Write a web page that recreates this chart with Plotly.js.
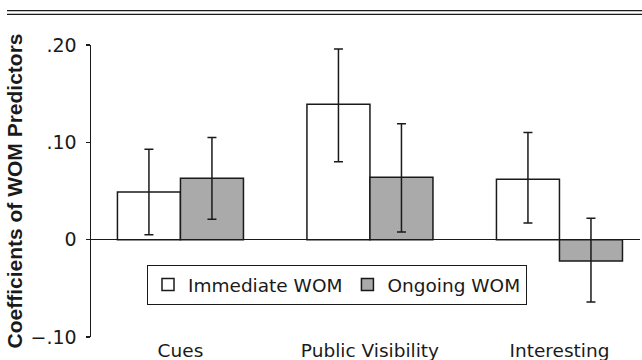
<!DOCTYPE html>
<html>
<head>
<meta charset="utf-8">
<script src="https://cdn.plot.ly/plotly-3.0.1.min.js"></script>
<style>html,body{margin:0;padding:0;background:#fff;}#chart{width:642px;height:360px;}</style>
</head>
<body>
<div id="chart"></div>
<script>
const categories = ["Cues", "Public Visibility", "Interesting"];
const immediateValues = [0.049, 0.139, 0.062];
const immediateUpper = [0.093, 0.196, 0.110];
const immediateLower = [0.005, 0.080, 0.017];
const ongoingValues = [0.063, 0.064, -0.022];
const ongoingUpper = [0.105, 0.119, 0.022];
const ongoingLower = [0.021, 0.008, -0.064];
const yTickVals = [-0.1, 0, 0.1, 0.2];
const yTickText = ["\u2212.10", "0", ".10", ".20"];

const ink = "#1a1a1a";
const wideFont = "DejaVu Sans, sans-serif";
const titleFont = "Liberation Sans, Arial, sans-serif";

function errs(vals, up, lo) {
  return {
    type: "data", symmetric: false,
    array: vals.map((v, i) => up[i] - v),
    arrayminus: vals.map((v, i) => v - lo[i]),
    color: ink, thickness: 1.5, width: 4.5
  };
}

const traces = [
  {
    type: "bar", name: "Immediate WOM", x: categories, y: immediateValues,
    marker: {color: "#ffffff", line: {color: ink, width: 1.5}},
    error_y: errs(immediateValues, immediateUpper, immediateLower)
  },
  {
    type: "bar", name: "Ongoing WOM", x: categories, y: ongoingValues,
    marker: {color: "#aaaaaa", line: {color: ink, width: 1.5}},
    error_y: errs(ongoingValues, ongoingUpper, ongoingLower)
  }
];

const layout = {
  width: 642, height: 360,
  margin: {l: 91, r: 2, t: 45, b: 23},
  paper_bgcolor: "#fff", plot_bgcolor: "#fff",
  font: {family: wideFont, size: 19, color: ink},
  barmode: "group", bargap: 0.335, bargroupgap: 0,
  showlegend: true,
  legend: {
    orientation: "h", x: 0.102, xanchor: "left", y: 0.2466, yanchor: "top",
    bgcolor: "#fff", bordercolor: ink, borderwidth: 1,
    font: {family: wideFont, size: 18.5, color: ink},
    traceorder: "normal"
  },
  xaxis: {
    range: [-0.472, 2.425], showline: false, showgrid: false, ticks: "",
    zeroline: false, fixedrange: true,
    tickfont: {family: wideFont, size: 18.5, color: ink}
  },
  yaxis: {
    range: [-0.1, 0.2], tickvals: yTickVals, ticktext: yTickText,
    showline: true, linecolor: ink, linewidth: 1.5,
    ticks: "outside", ticklen: 4, tickwidth: 1.5, tickcolor: ink,
    ticklabelstandoff: 5,
    showgrid: false, zeroline: true, zerolinecolor: ink, zerolinewidth: 1.5,
    tickfont: {family: wideFont, size: 19, color: ink},
    title: {text: "<b>Coefficients of WOM Predictors</b>", font: {family: titleFont, size: 21, color: ink}, standoff: 2}
  },
  shapes: [
    {type: "line", xref: "paper", yref: "paper", x0: -0.153, x1: 1.01, y0: 1.118, y1: 1.118, line: {color: ink, width: 1.3}},
    {type: "line", xref: "paper", yref: "paper", x0: -0.153, x1: 1.01, y0: 1.105, y1: 1.105, line: {color: ink, width: 1.3}}
  ]
};

Plotly.newPlot("chart", traces, layout, {staticPlot: true, displayModeBar: false});
</script>
</body>
</html>
